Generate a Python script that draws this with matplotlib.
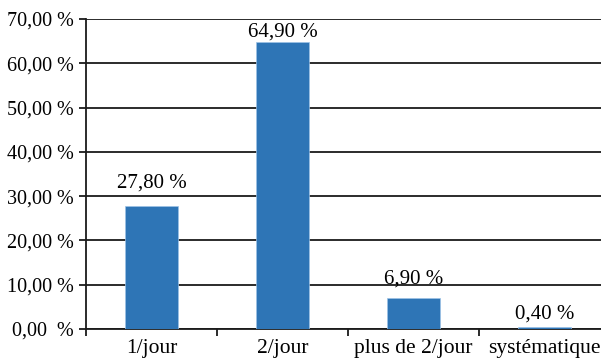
import matplotlib
matplotlib.use("Agg")
import matplotlib.pyplot as plt
import numpy as np

categories = ["1/jour", "2/jour", "plus de 2/jour", "systématique"]
values = [27.80, 64.90, 6.90, 0.40]
y_ticks = [0, 10, 20, 30, 40, 50, 60, 70]
y_tick_labels = ["0,00  %", "10,00 %", "20,00 %", "30,00 %", "40,00 %",
                 "50,00 %", "60,00 %", "70,00 %"]

# gap (pixels) between each bar top and its value label baseline
label_gap_px = [18, 5, 15, 9]

plt.rcParams["font.family"] = ["Liberation Serif", "DejaVu Serif"]

fig = plt.figure(figsize=(6.01, 3.60), dpi=100)
W, H = 601, 360
ax = fig.add_axes([86 / W, (H - 329) / H, (610 - 86) / W, (329 - 19) / H])

x = np.arange(len(categories))
bars = ax.bar(x, values, width=0.4, color="#2E75B6", edgecolor="#9DC3E6",
              linewidth=0.5, zorder=3)

ax.set_xlim(-0.5, len(categories) - 0.5)
ax.set_ylim(0, 70)

ax.set_yticks(y_ticks)
ax.set_yticklabels(y_tick_labels, fontsize=14.5)
ax.yaxis.grid(True, color="#1a1a1a", linewidth=1.3, zorder=1)
ax.set_axisbelow(True)

ax.set_xticks(x)
ax.set_xticklabels(categories, fontsize=15.5)
ax.tick_params(axis="x", which="major", length=0, pad=7)
ax.set_xticks(np.arange(len(categories) + 1) - 0.5, minor=True)
ax.tick_params(axis="x", which="minor", length=5, width=1.3, color="#1a1a1a")
ax.tick_params(axis="y", length=5, width=1.3, color="#1a1a1a", pad=4)

for side in ["top", "right"]:
    ax.spines[side].set_visible(False)
for side in ["left", "bottom"]:
    ax.spines[side].set_color("#1a1a1a")
    ax.spines[side].set_linewidth(1.3)

for rect, v, gap in zip(bars, values, label_gap_px):
    ax.annotate(f"{v:.2f} %".replace(".", ","),
                xy=(rect.get_x() + rect.get_width() / 2, v),
                xytext=(0, gap * 72 / 100), textcoords="offset points",
                ha="center", va="baseline", fontsize=15, zorder=4)

fig.savefig("out.png", dpi=100)
